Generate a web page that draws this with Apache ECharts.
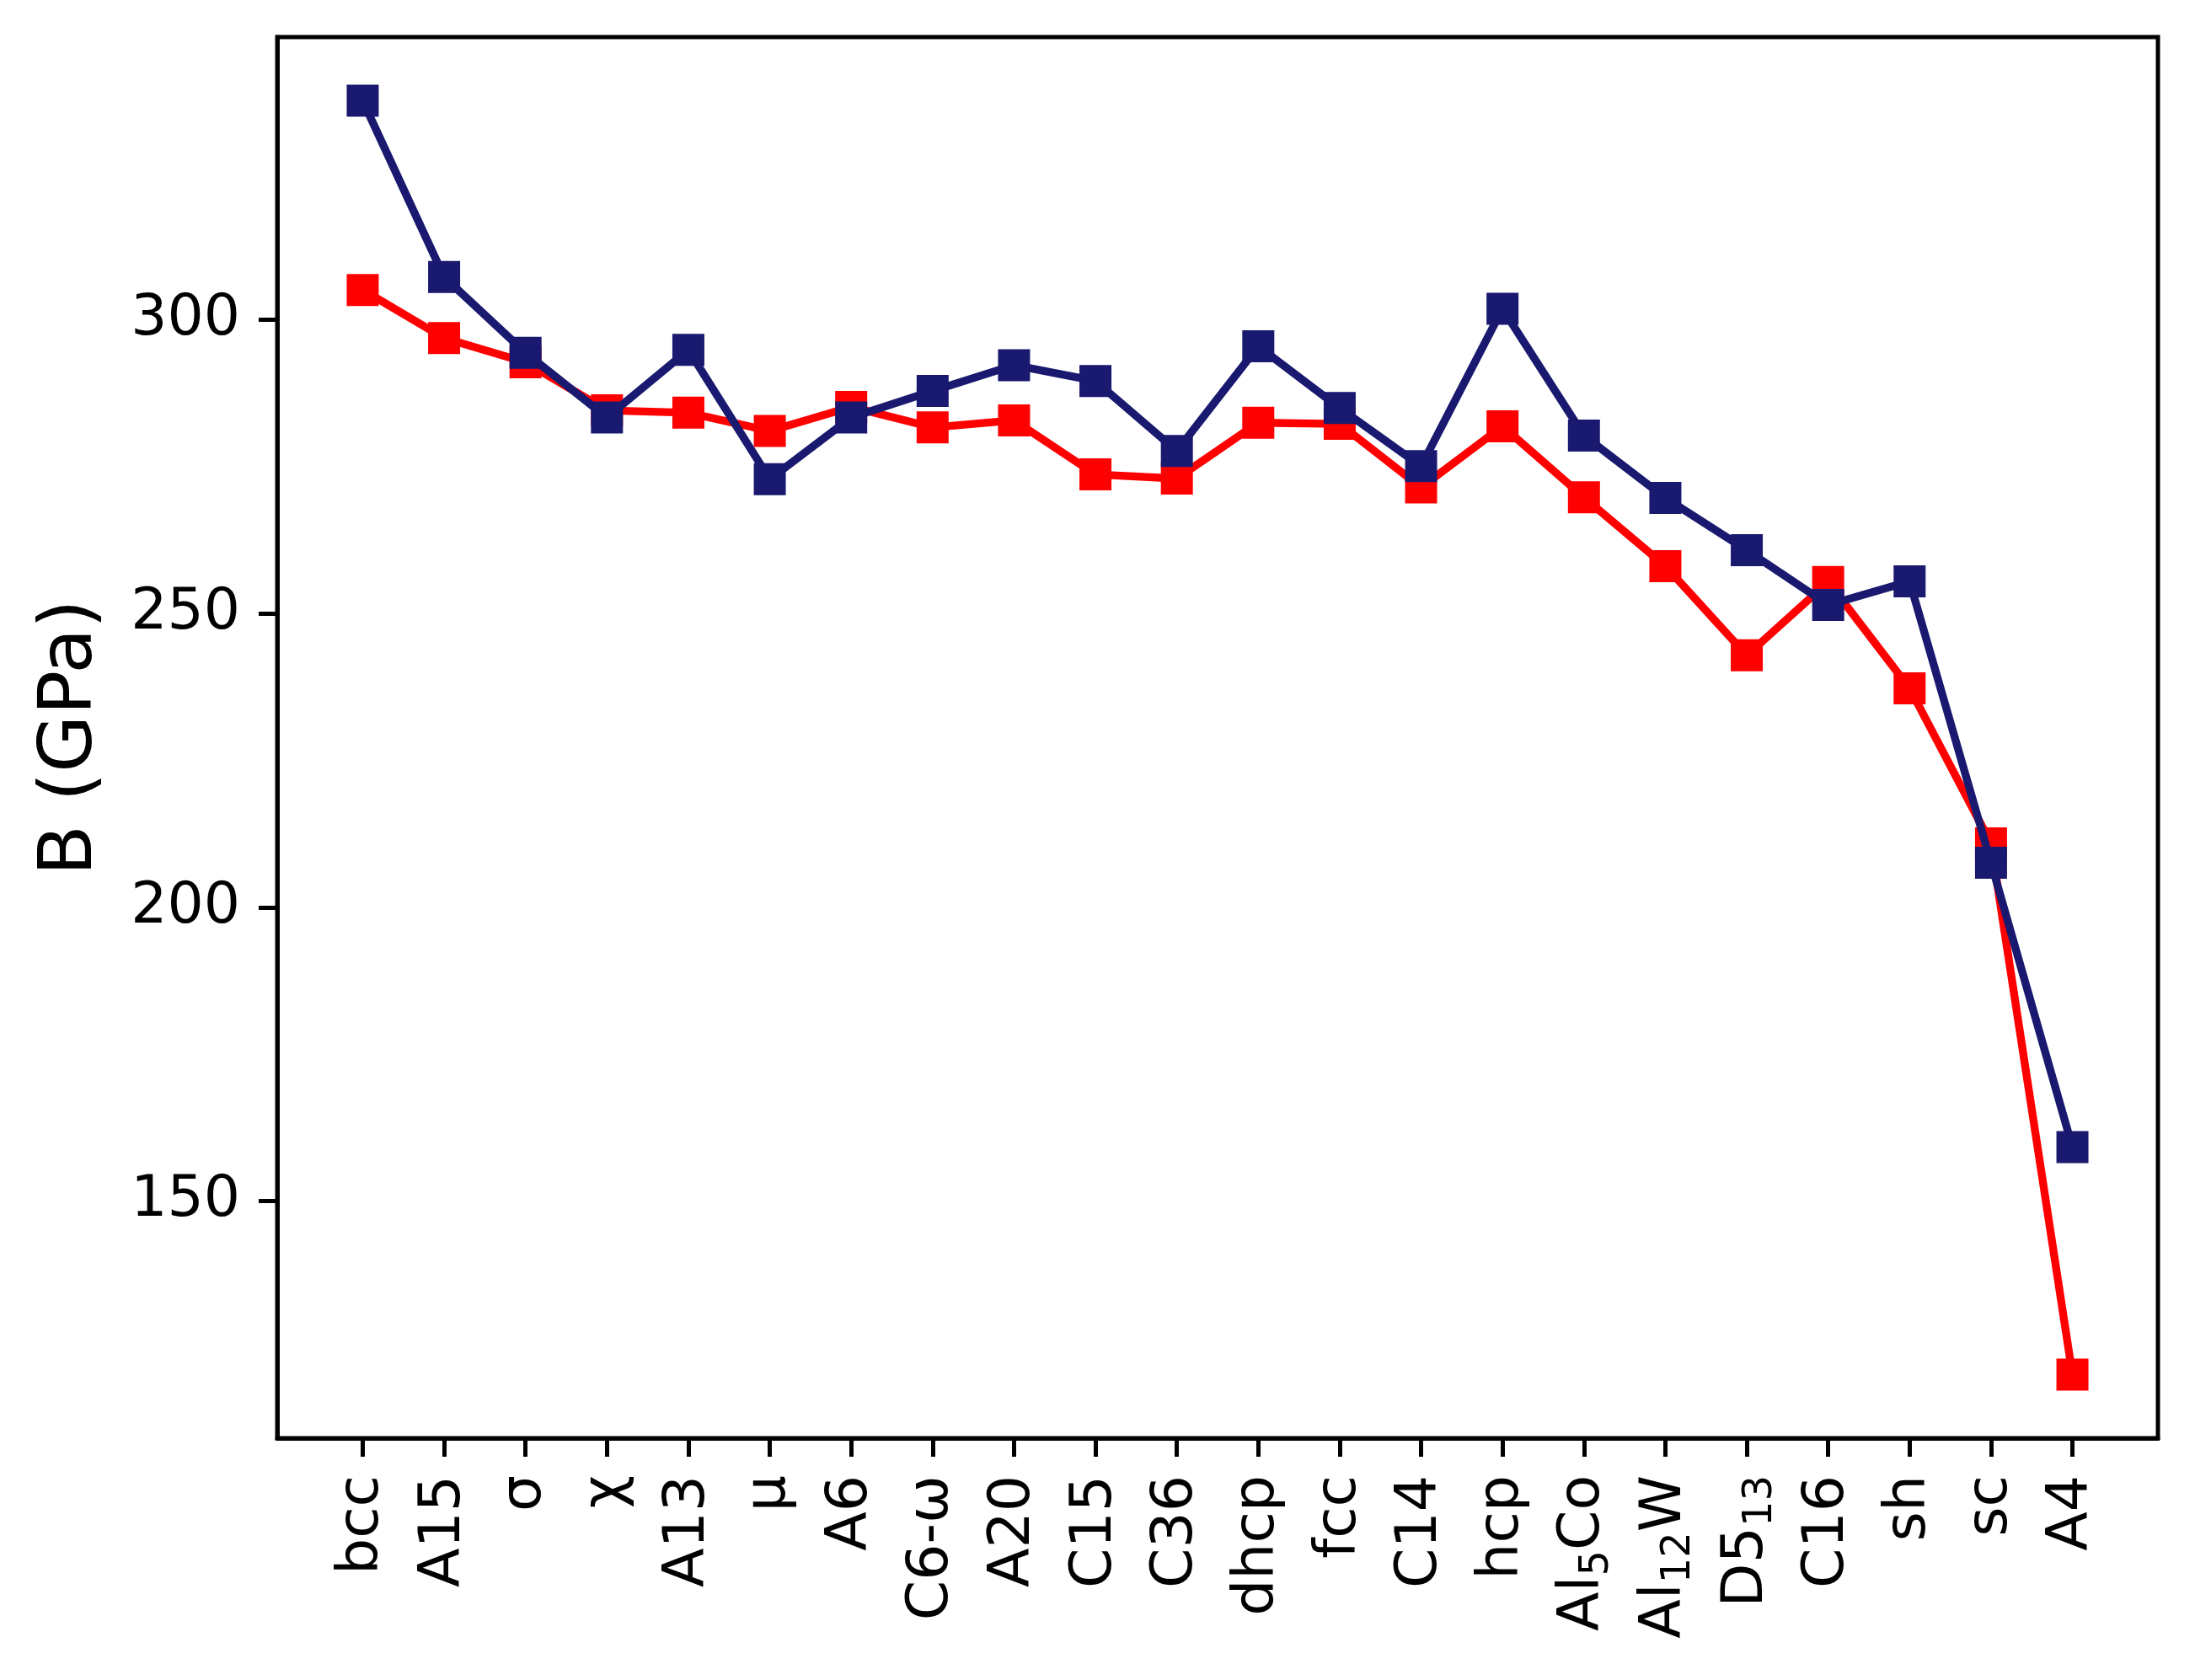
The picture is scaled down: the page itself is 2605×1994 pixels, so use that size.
<!DOCTYPE html>
<html>
<head>
<meta charset="utf-8">
<script src="https://cdn.jsdelivr.net/npm/echarts@6/dist/echarts.min.js"></script>
<style>
  html, body { margin: 0; padding: 0; background: #fff; }
  #chart { width: 2605px; height: 1994px; }
</style>
</head>
<body>
<div id="chart"></div>
<script>
const categories = ['bcc', 'A15', 'σ', 'χ', 'A13', 'μ', 'A6', 'C6-ω', 'A20', 'C15', 'C36', 'dhcp', 'fcc', 'C14', 'hcp', 'Al₅Co', 'Al₁₂W', 'D5₁₃', 'C16', 'sh', 'sc', 'A4'];
const redValues = [305.1, 296.9, 292.8, 284.6, 284.2, 281.1, 285.2, 281.7, 282.9, 273.7, 273.0, 282.5, 282.3, 271.5, 281.9, 269.8, 258.1, 242.9, 255.4, 237.3, 210.9, 120.5];
const blueValues = [337.3, 307.3, 294.4, 283.4, 294.9, 272.9, 283.4, 287.9, 292.3, 289.6, 277.7, 295.5, 285.0, 275.1, 301.9, 280.3, 269.7, 260.8, 251.5, 255.5, 207.6, 159.2];
const yTicks = [150, 200, 250, 300];
const yName = 'B (GPa)';

const FONT = 'DejaVu Sans';
const subMap = { '₀': '0', '₁': '1', '₂': '2', '₃': '3', '₄': '4', '₅': '5', '₆': '6', '₇': '7', '₈': '8', '₉': '9' };
function richLabel(s) {
  let out = '';
  let buf = '';
  let inSub = false;
  for (const ch of s) {
    const isSub = ch in subMap;
    if (isSub !== inSub) {
      if (buf) out += inSub ? '{sub|' + buf + '}' : '{n|' + buf + '}';
      buf = '';
      inSub = isSub;
    }
    buf += isSub ? subMap[ch] : ch;
  }
  if (buf) out += inSub ? '{sub|' + buf + '}' : '{n|' + buf + '}';
  return out;
}

const idx = categories.map((_, i) => i);
const allVals = redValues.concat(blueValues);
const dMin = Math.min(...allVals), dMax = Math.max(...allVals);
const pad = (dMax - dMin) * 0.05;
const axisLineStyle = { color: '#000', width: 5 };

const chart = echarts.init(document.getElementById('chart'), null, { renderer: 'canvas' });
chart.setOption({
  animation: false,
  backgroundColor: '#ffffff',
  grid: {
    left: 329, top: 44, width: 2232, height: 1663,
    show: true, borderColor: '#000', borderWidth: 5, backgroundColor: 'transparent'
  },
  xAxis: {
    type: 'value',
    min: -1.05, max: categories.length - 1 + 1.05,
    splitLine: { show: false },
    axisLine: { show: true, onZero: false, lineStyle: axisLineStyle },
    axisTick: { show: true, customValues: idx, length: 22, lineStyle: axisLineStyle },
    axisLabel: {
      customValues: idx,
      rotate: 90,
      margin: 44,
      color: '#000',
      fontFamily: FONT,
      fontSize: 68,
      formatter: v => richLabel(categories[Math.round(v)] || ''),
      rich: {
        n: { fontFamily: FONT, fontSize: 68, color: '#000', lineHeight: 80 },
        sub: { fontFamily: FONT, fontSize: 48, color: '#000', lineHeight: 80, verticalAlign: 'bottom' }
      }
    }
  },
  yAxis: {
    type: 'value',
    min: dMin - pad, max: dMax + pad,
    splitLine: { show: false },
    axisLine: { show: true, onZero: false, lineStyle: axisLineStyle },
    axisTick: { show: true, customValues: yTicks, length: 22, lineStyle: axisLineStyle },
    axisLabel: { customValues: yTicks, margin: 44, color: '#000', fontFamily: FONT, fontSize: 68 },
    name: yName,
    nameLocation: 'middle',
    nameGap: 200,
    nameTextStyle: { fontFamily: FONT, fontSize: 88, color: '#000' }
  },
  series: [
    {
      type: 'line', z: 2,
      data: redValues.map((v, i) => [i, v]),
      symbol: 'rect', symbolSize: 38, showAllSymbol: true,
      lineStyle: { color: '#ff0000', width: 9.4 },
      itemStyle: { color: '#ff0000' }
    },
    {
      type: 'line', z: 3,
      data: blueValues.map((v, i) => [i, v]),
      symbol: 'rect', symbolSize: 38, showAllSymbol: true,
      lineStyle: { color: '#191970', width: 9.4 },
      itemStyle: { color: '#191970' }
    }
  ]
});
</script>
</body>
</html>
